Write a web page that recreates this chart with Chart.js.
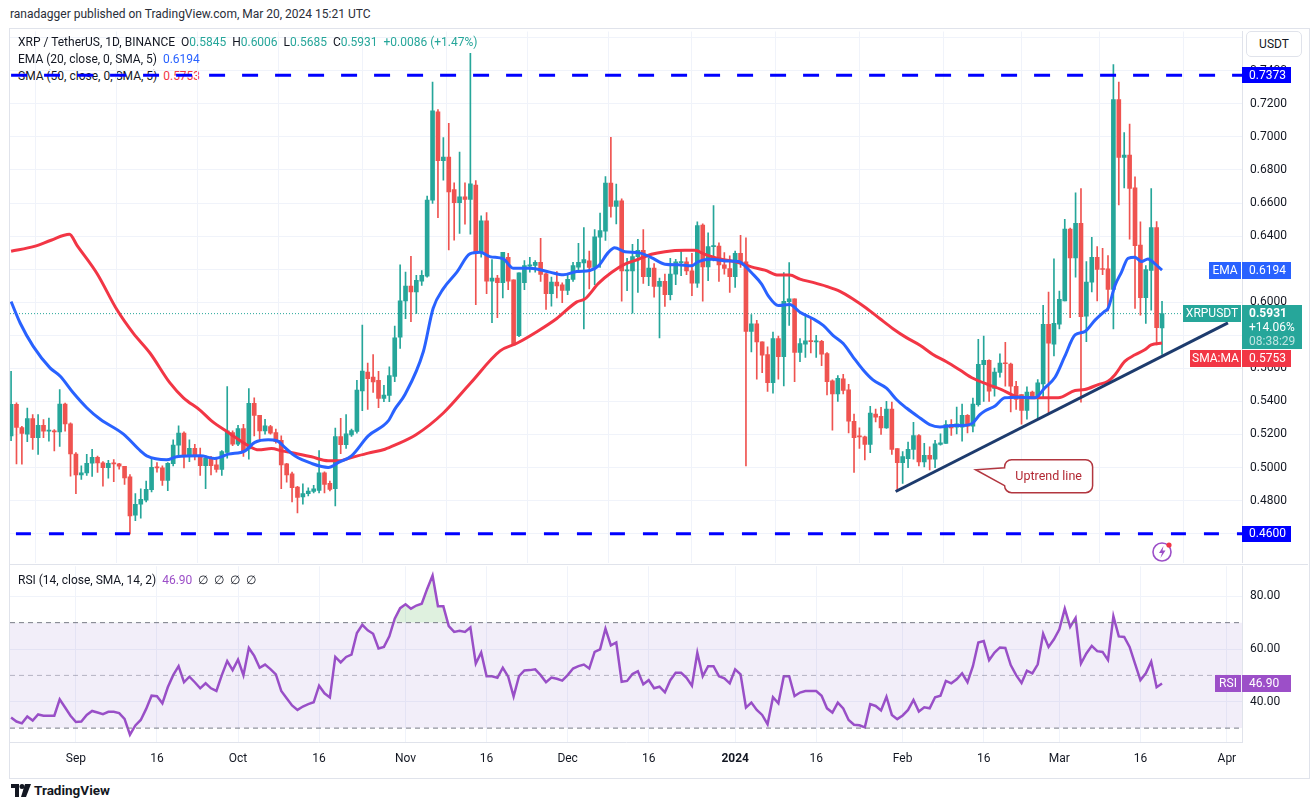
<!DOCTYPE html>
<html>
<head>
<meta charset="utf-8">
<script src="https://cdn.jsdelivr.net/npm/chart.js@4.4.1/dist/chart.umd.min.js"></script>
<style>
  html, body { margin: 0; padding: 0; background: #fff; }
  body { width: 1316px; height: 808px; position: relative; overflow: hidden;
         font-family: Roboto, "Liberation Sans", sans-serif; color: #131722; }
  .abs { position: absolute; }
  #title { left: 10px; top: 7px; font-size: 12px; color: #2a2e39; }
  #frame { left: 9px; top: 28px; width: 1299px; height: 749px; border: 1px solid #e0e3eb; }
  #sep { left: 10px; top: 564px; width: 1298px; height: 1px; background: #e0e3eb; }
  .leg { left: 18px; font-size: 12px; white-space: pre; z-index: 0; }
  .leg.top { z-index: 2; }
  .up { color: #26a69a; }
  #priceWrap { left: 0; top: 30px; z-index: 1; }
  #rsiWrap { left: 0; top: 565px; z-index: 1; }
  #usdt { left: 1246px; top: 31px; width: 54px; height: 24px; border: 1px solid #e0e3eb; border-radius: 5px;
          background: #fff; font-size: 12px; text-align: center; line-height: 24px; z-index: 2; }
  #bolt { left: 1151px; top: 540px; z-index: 2; }
  #logo { left: 11px; top: 782px; font-size: 13.5px; font-weight: bold; color: #131722; }
</style>
</head>
<body>
<div id="title" class="abs">ranadagger published on TradingView.com, Mar 20, 2024 15:21 UTC</div>
<div id="frame" class="abs"></div>
<div id="sep" class="abs"></div>

<div class="abs leg top" style="top:35px">XRP / TetherUS, 1D, BINANCE  O<span class="up">0.5845</span>  H<span class="up">0.6006</span>  L<span class="up">0.5685</span>  C<span class="up">0.5931</span>  <span class="up">+0.0086 (+1.47%)</span></div>
<div class="abs leg top" style="top:52px">EMA (20, close, 0, SMA, 5)  <span style="color:#2962ff">0.6194</span></div>
<div class="abs leg" style="top:69px">SMA (50, close, 0, SMA, 5)  <span style="color:#f23645">0.5753</span></div>
<div class="abs leg top" style="top:573px">RSI (14, close, SMA, 14, 2)  <span style="color:#9c4fc8">46.90</span>  ∅  ∅  ∅  ∅</div>

<div id="priceWrap" class="abs"><canvas id="price" width="1316" height="534"></canvas></div>
<div id="rsiWrap" class="abs"><canvas id="rsi" width="1316" height="212"></canvas></div>
<div id="usdt" class="abs">USDT</div>

<svg id="bolt" class="abs" width="24" height="24" viewBox="0 0 24 24">
  <circle cx="11" cy="12" r="9" fill="#fff" stroke="#9c4fc8" stroke-width="1.6"/>
  <path d="M12.5 6 L8 13 H11 L9.5 18 L14.5 10.5 H11.5 Z" fill="#9c4fc8"/>
  <circle cx="18" cy="5" r="2.6" fill="#f23645"/>
</svg>

<div id="logo" class="abs">
  <svg width="20" height="13" viewBox="0 0 20 13" style="vertical-align:-2px;margin-right:3px">
    <path d="M0 0 H8 V13 H4 V4 H0 Z" fill="#131722"/>
    <circle cx="11" cy="2.5" r="2.5" fill="#131722"/>
    <path d="M14 0 H20 L15 13 H10 Z" fill="#131722"/>
  </svg>TradingView</div>

<script>
var FONT = 'Roboto, "Liberation Sans", sans-serif';
var UP = '#26a69a', DOWN = '#ef5350';
var GRID = '#f0f3fa';
var RSI_COL = '#9c4fc8';

// daily candles, index 0 = Aug 20 2023 ... index 213 = Mar 20 2024
var opens = [
0.5192,0.5382,0.5242,0.5202,0.5296,0.5180,0.5256,0.5220,0.5222,0.5215,
0.5384,0.5264,0.5082,0.4956,0.4968,0.5026,0.5062,0.5028,0.5000,0.5026,
0.5022,0.5008,0.4944,0.4712,0.4778,0.4802,0.4866,0.5004,0.4998,0.4922,
0.5024,0.5136,0.5208,0.5066,0.5116,0.5062,0.5012,0.5056,0.5016,0.4988,
0.5092,0.5212,0.5142,0.5236,0.5112,0.5388,0.5316,0.5222,0.5248,0.5212,
0.5164,0.5022,0.4962,0.4882,0.4822,0.4842,0.4856,0.4862,0.4968,0.4904,
0.4872,0.5188,0.5138,0.5198,0.5218,0.5464,0.5578,0.5548,0.5528,0.5418,
0.5436,0.5552,0.5788,0.6008,0.6098,0.6062,0.6128,0.6158,0.6618,0.7152,
0.6856,0.6878,0.6682,0.6602,0.6638,0.6622,0.6708,0.6298,0.6492,0.6128,
0.6146,0.6118,0.6272,0.6136,0.5798,0.6118,0.6218,0.6222,0.6242,0.6172,
0.6052,0.6122,0.6106,0.6072,0.6138,0.6212,0.6238,0.6250,0.6210,0.6394,
0.6430,0.6720,0.6580,0.6614,0.6190,0.6190,0.6276,0.6314,0.6154,0.6206,
0.6096,0.6126,0.6046,0.6170,0.6240,0.6244,0.6190,0.6116,0.6466,0.6214,
0.6336,0.6340,0.6226,0.6204,0.6154,0.6296,0.6244,0.5824,0.5870,0.5760,
0.5684,0.5514,0.5780,0.5670,0.6004,0.6020,0.5696,0.5746,0.5766,0.5760,
0.5764,0.5690,0.5524,0.5446,0.5536,0.5470,0.5280,0.5190,0.5186,0.5140,
0.5324,0.5310,0.5240,0.5354,0.5114,0.5030,0.5054,0.5110,0.5194,0.5034,
0.5074,0.5050,0.5140,0.5146,0.5260,0.5244,0.5244,0.5316,0.5250,0.5380,
0.5622,0.5648,0.5478,0.5576,0.5632,0.5626,0.5492,0.5442,0.5346,0.5456,
0.5422,0.5506,0.5866,0.5746,0.5868,0.6008,0.6442,0.6268,0.6478,0.5916,
0.6122,0.6272,0.6200,0.6202,0.6078,0.7226,0.6876,0.6890,0.6692,0.6346,
0.6028,0.6192,0.6452,0.5845];
var highs = [
0.5582,0.5392,0.5250,0.5360,0.5320,0.5320,0.5290,0.5300,0.5230,0.5472,
0.5390,0.5270,0.5090,0.5010,0.5080,0.5110,0.5070,0.5036,0.5044,0.5048,
0.5026,0.5008,0.4958,0.4842,0.4872,0.4918,0.5058,0.5030,0.5010,0.5030,
0.5168,0.5252,0.5216,0.5168,0.5140,0.5118,0.5072,0.5068,0.5062,0.5102,
0.5490,0.5222,0.5256,0.5262,0.5478,0.5422,0.5316,0.5292,0.5256,0.5232,
0.5192,0.5026,0.4972,0.4886,0.4902,0.4878,0.4892,0.5102,0.4974,0.4918,
0.5238,0.5298,0.5320,0.5232,0.5528,0.5862,0.5632,0.5684,0.5582,0.5498,
0.5610,0.5855,0.6226,0.6182,0.6278,0.6162,0.6192,0.6642,0.7332,0.7166,
0.6996,0.7082,0.6722,0.6908,0.6722,0.7506,0.6736,0.6522,0.6542,0.6258,
0.6162,0.6302,0.6296,0.6136,0.6178,0.6252,0.6272,0.6252,0.6386,0.6176,
0.6152,0.6186,0.6118,0.6166,0.6242,0.6356,0.6452,0.6310,0.6440,0.6540,
0.6760,0.6998,0.6714,0.6626,0.6266,0.6350,0.6380,0.6440,0.6266,0.6234,
0.6146,0.6170,0.6266,0.6260,0.6316,0.6270,0.6296,0.6486,0.6474,0.6420,
0.6584,0.6360,0.6300,0.6280,0.6310,0.6404,0.6390,0.5926,0.5890,0.5760,
0.5730,0.5820,0.5796,0.6180,0.6240,0.6020,0.5780,0.5926,0.5896,0.5800,
0.5770,0.5696,0.5530,0.5556,0.5564,0.5504,0.5324,0.5240,0.5190,0.5370,
0.5354,0.5364,0.5400,0.5396,0.5114,0.5096,0.5154,0.5274,0.5200,0.5146,
0.5126,0.5164,0.5204,0.5284,0.5290,0.5366,0.5384,0.5320,0.5420,0.5776,
0.5796,0.5652,0.5602,0.5688,0.5758,0.5632,0.5522,0.5442,0.5488,0.5462,
0.5532,0.5982,0.6062,0.6262,0.6068,0.6502,0.6448,0.6662,0.6688,0.6246,
0.6392,0.6336,0.6326,0.6282,0.7438,0.7332,0.7026,0.7078,0.6758,0.6486,
0.6222,0.6688,0.6488,0.6006];
var lows = [
0.5162,0.5022,0.5020,0.5156,0.5110,0.5080,0.5180,0.5160,0.5100,0.5128,
0.5220,0.4948,0.4842,0.4928,0.4952,0.4946,0.4970,0.4888,0.4936,0.4914,
0.4990,0.4898,0.4598,0.4678,0.4694,0.4792,0.4852,0.4972,0.4892,0.4860,
0.5010,0.5072,0.4998,0.5036,0.5046,0.4952,0.4872,0.4956,0.4972,0.4952,
0.5056,0.5132,0.5132,0.5068,0.5050,0.5192,0.5162,0.5202,0.5202,0.5148,
0.4872,0.4912,0.4792,0.4726,0.4778,0.4828,0.4846,0.4846,0.4846,0.4858,
0.4768,0.5084,0.5116,0.5188,0.5208,0.5344,0.5352,0.5454,0.5362,0.5398,
0.5398,0.5520,0.5720,0.5900,0.5882,0.5932,0.6102,0.6152,0.6598,0.6512,
0.6738,0.6316,0.6376,0.6416,0.6472,0.6412,0.5986,0.6272,0.6052,0.5876,
0.5906,0.6026,0.6076,0.5742,0.5792,0.6076,0.6182,0.6182,0.6126,0.5956,
0.5976,0.6026,0.5998,0.6046,0.6126,0.6182,0.5838,0.6080,0.6106,0.6210,
0.6374,0.6514,0.6474,0.6006,0.6070,0.5934,0.6060,0.6114,0.6100,0.6030,
0.5784,0.5974,0.6014,0.6106,0.6160,0.6166,0.6040,0.6090,0.6006,0.6130,
0.6250,0.6126,0.6170,0.6060,0.6090,0.6210,0.5010,0.5700,0.5534,0.5574,
0.5460,0.5450,0.5534,0.5494,0.5860,0.5520,0.5640,0.5666,0.5694,0.5666,
0.5616,0.5440,0.5226,0.5400,0.5446,0.5210,0.4970,0.5116,0.5046,0.5090,
0.5276,0.5200,0.5236,0.5080,0.4854,0.4904,0.4999,0.5050,0.5010,0.5004,
0.4986,0.5000,0.5136,0.5146,0.5194,0.5204,0.5160,0.5210,0.5216,0.5372,
0.5400,0.5400,0.5432,0.5546,0.5492,0.5336,0.5352,0.5262,0.5292,0.5422,
0.5296,0.5422,0.5326,0.5676,0.5838,0.6008,0.5906,0.6152,0.5396,0.5762,
0.6062,0.6008,0.6166,0.5948,0.5838,0.6588,0.6692,0.6382,0.5962,0.5922,
0.5872,0.5952,0.5742,0.5685];
var closes = [
0.5382,0.5242,0.5206,0.5296,0.5180,0.5256,0.5220,0.5224,0.5215,0.5384,
0.5264,0.5082,0.4956,0.4968,0.5026,0.5062,0.5028,0.5000,0.5026,0.5022,
0.5008,0.4938,0.4708,0.4778,0.4808,0.4868,0.5002,0.4998,0.4922,0.5026,
0.5136,0.5208,0.5066,0.5116,0.5066,0.5012,0.5056,0.5012,0.4988,0.5096,
0.5222,0.5142,0.5236,0.5096,0.5388,0.5316,0.5222,0.5252,0.5208,0.5156,
0.5016,0.4956,0.4878,0.4820,0.4842,0.4858,0.4872,0.4968,0.4898,0.4868,
0.5188,0.5138,0.5204,0.5224,0.5468,0.5584,0.5538,0.5518,0.5418,0.5438,
0.5556,0.5785,0.6008,0.6098,0.6062,0.6132,0.6162,0.6618,0.7158,0.6856,
0.6878,0.6668,0.6602,0.6638,0.6622,0.6716,0.6298,0.6492,0.6128,0.6146,
0.6118,0.6302,0.6128,0.5742,0.6178,0.6222,0.6226,0.6242,0.6168,0.6052,
0.6122,0.6098,0.6072,0.6138,0.6222,0.6242,0.6258,0.6210,0.6396,0.6434,
0.6720,0.6580,0.6614,0.6190,0.6196,0.6276,0.6314,0.6154,0.6206,0.6096,
0.6126,0.6046,0.6170,0.6244,0.6246,0.6190,0.6116,0.6464,0.6214,0.6336,
0.6340,0.6226,0.6204,0.6154,0.6296,0.6244,0.5824,0.5870,0.5760,0.5680,
0.5514,0.5780,0.5670,0.6006,0.6020,0.5696,0.5750,0.5766,0.5762,0.5766,
0.5686,0.5520,0.5446,0.5540,0.5466,0.5280,0.5180,0.5186,0.5140,0.5330,
0.5304,0.5240,0.5354,0.5110,0.5030,0.5066,0.5110,0.5194,0.5034,0.5074,
0.5050,0.5144,0.5150,0.5260,0.5240,0.5264,0.5316,0.5250,0.5384,0.5624,
0.5648,0.5462,0.5578,0.5632,0.5628,0.5492,0.5412,0.5346,0.5456,0.5428,
0.5512,0.5866,0.5752,0.5872,0.6018,0.6442,0.6268,0.6478,0.5912,0.6122,
0.6272,0.6198,0.6198,0.6078,0.7226,0.6876,0.6890,0.6688,0.6342,0.6028,
0.6198,0.6452,0.5846,0.5931];

// EMA 20 and SMA 50 as [day index, value]
var emaPts = [
[0,0.6004],[1.7,0.5873],[4.1,0.5733],[7.2,0.5603],[9.1,0.5552],[11.5,0.5452],[14,0.5362],[16.5,0.5292],
[20.8,0.5202],[23.9,0.5102],[25.1,0.5071],[28.8,0.5047],[30.6,0.5065],[35,0.5071],[37.7,0.5055],[40.2,0.5081],
[43.3,0.5101],[45.1,0.5152],[47.6,0.5168],[49.2,0.5162],[50.7,0.5121],[52.5,0.5071],[55.6,0.5025],[58.7,0.5001],
[60.6,0.5031],[63,0.5071],[66.1,0.5192],[69.8,0.5282],[71,0.5352],[72.9,0.5442],[76.3,0.5702],[78.1,0.5962],
[80,0.6082],[82.5,0.6182],[84.9,0.6292],[86.8,0.6302],[88.6,0.6276],[91.1,0.6262],[92.9,0.6206],[96,0.6206],
[99.7,0.6182],[102.2,0.6166],[104.7,0.6186],[107.1,0.6192],[108.7,0.622],[110.5,0.630],[111.7,0.633],[113.6,0.6306],
[116.1,0.630],[118.5,0.627],[121,0.623],[123.5,0.6226],[125.9,0.622],[127.2,0.6246],[129.6,0.626],[132.1,0.625],
[134.6,0.6246],[135.8,0.622],[137,0.618],[138.9,0.611],[140.1,0.604],[142,0.598],[144.1,0.5986],[146,0.594],
[148.4,0.590],[150.3,0.586],[152.1,0.580],[154,0.575],[155.8,0.567],[157.7,0.559],[159.5,0.553],[162,0.548],
[163.9,0.541],[165.7,0.536],[168.2,0.530],[170,0.526],[171.9,0.5246],[174.3,0.5254],[176.8,0.5256],[178,0.527],
[179.3,0.532],[180.2,0.5342],[182.1,0.5372],[183.9,0.5422],[186.4,0.5426],[189.5,0.5422],[191.3,0.5482],[193.2,0.5546],
[195,0.5672],[196.9,0.5802],[198.7,0.5822],[200.6,0.5892],[202.4,0.5946],[203,0.5962],[204.3,0.6102],[205.5,0.6182],
[206.7,0.6266],[208,0.6272],[209.2,0.6246],[210.4,0.6262],[211.7,0.6232],[213,0.6194]];
var smaPts = [
[0,0.6308],[4.3,0.6338],[7.4,0.6375],[10.8,0.6411],[12.2,0.6344],[15.9,0.6174],[19.6,0.5954],[22.6,0.5813],
[25.7,0.5693],[29.4,0.5512],[31.9,0.5422],[35,0.5346],[37.1,0.5282],[40.2,0.5212],[43.9,0.5132],[45.8,0.5107],
[48.2,0.5115],[50.1,0.5101],[52.5,0.5087],[55.6,0.5065],[58.7,0.5041],[60.6,0.5041],[63,0.5061],[66.1,0.5087],
[69.2,0.5111],[71,0.5135],[75,0.5200],[80,0.5330],[85,0.5510],[90.5,0.5706],[93.6,0.5752],[97.3,0.5822],
[101,0.5902],[104.7,0.6002],[106.2,0.6020],[108.7,0.6114],[111.1,0.618],[113.6,0.623],[116.1,0.626],[118.5,0.629],
[121,0.6306],[124.7,0.6314],[126.5,0.6314],[128.4,0.629],[130.9,0.6264],[133.3,0.625],[135.2,0.6234],[137,0.6214],
[139.5,0.6194],[142,0.6164],[144.1,0.6164],[146,0.614],[148.4,0.612],[150.9,0.6096],[153.4,0.6066],[155.8,0.602],
[158.3,0.5964],[160.8,0.590],[163.2,0.584],[165.7,0.5786],[168.2,0.574],[170.6,0.5684],[173.1,0.564],[175.6,0.559],
[178,0.554],[180.8,0.5502],[183.3,0.5472],[185.8,0.5432],[188.2,0.5422],[190.7,0.5422],[193.8,0.5422],[196.9,0.5466],
[198.7,0.5472],[201.2,0.5502],[203,0.5522],[204.3,0.5562],[206.1,0.5642],[208,0.5682],[209.8,0.5712],[211,0.5742],
[213,0.5753]];

var rsiVals = [
34.0,32.5,31.8,34.4,32.9,35.2,34.7,34.7,34.7,40.9,
37.8,34.7,32.3,32.5,35.0,36.5,35.9,35.3,36.2,36.2,
35.7,33.5,27.5,31.0,33.1,37.3,42.3,42.1,39.4,45.5,
50.1,53.5,47.4,49.5,47.4,45.1,47.0,45.1,44.1,50.1,
55.4,52.0,56.0,50.1,60.4,57.4,52.9,54.1,52.4,50.4,
44.1,41.3,38.6,36.9,38.2,39.1,39.8,46.1,43.2,41.6,
57.0,54.9,57.0,57.9,66.1,69.2,67.1,65.8,60.2,60.8,
64.8,71.5,75.5,77.0,75.3,76.5,77.2,82.8,87.9,76.2,
76.2,68.7,66.5,66.9,66.5,68.2,54.5,58.7,49.7,49.7,
49.1,52.9,49.5,42.0,49.7,51.9,52.0,52.3,50.1,47.4,
49.2,48.7,48.0,50.1,52.6,53.5,54.1,52.6,58.9,59.9,
67.7,61.4,62.5,47.6,47.9,50.5,51.6,46.6,48.2,45.1,
45.7,43.6,48.2,51.0,51.0,49.1,46.1,58.6,49.7,53.5,
53.5,49.7,48.9,47.0,52.3,50.4,37.8,39.7,36.9,35.0,
31.5,41.7,39.4,49.7,49.7,42.2,43.5,44.1,44.1,44.1,
42.3,37.5,35.9,39.7,37.5,33.1,31.3,31.1,30.3,39.1,
38.4,36.7,41.9,35.0,33.4,34.8,36.9,40.7,36.3,37.9,
37.5,41.7,42.3,47.9,47.0,48.5,50.8,47.4,53.5,62.5,
63.0,55.8,58.7,60.6,60.4,53.9,50.1,47.1,51.8,50.8,
54.2,65.8,60.8,63.7,67.5,75.3,68.4,71.8,54.5,58.3,
61.2,59.2,58.9,55.8,72.4,64.8,64.6,60.8,54.5,48.2,
50.8,55.2,45.5,46.9];

// horizontal levels, trend line, last values
var levelHigh = 0.7373, levelLow = 0.4600;
var trendPts = [[163.7, 0.4855], [225.2, 0.5875]];
var lastClose = 0.5931, lastEma = 0.6194, lastSma = 0.5753, lastRsi = 46.90;
var changeText = '+14.06%', timerText = '08:38:29';

// axes
var xTickIdx = [12, 27, 42, 57, 73, 88, 103, 118, 134, 149, 165, 180, 194, 209, 225];
var xTickLabels = ['Sep', '16', 'Oct', '16', 'Nov', '16', 'Dec', '16', '2024', '16', 'Feb', '16', 'Mar', '16', 'Apr'];
var priceTicks = [0.46, 0.48, 0.50, 0.52, 0.54, 0.56, 0.58, 0.60, 0.62, 0.64, 0.66, 0.68, 0.70, 0.72, 0.74, 0.76];
var rsiTicks = [40, 60, 80];
var xMin = -0.2, xMax = 227.8;

// vertical placement: where a known value sits on the page (px)
var priceRef = { v: 0.7373, y: 74, perPx: 0.0006015 };
var rsiRef = { v: 50, y: 675.3, perPx: 1 / 2.64 };

var idx = opens.map(function (v, i) { return i; });
var candleColors = idx.map(function (i) { return closes[i] >= opens[i] ? UP : DOWN; });
function pts(arr) { return arr.map(function (p) { return { x: p[0], y: p[1] }; }); }
function hline(v) { return [{ x: xMin, y: v }, { x: xMax, y: v }]; }
function noPad(s) { s.paddingTop = 0; s.paddingBottom = 0; }

// set the y range so the chart area maps values to the wanted page rows
function pinY(chart, canvasTop, ref) {
  var a = chart.chartArea, yo = chart.options.scales.y;
  yo.max = ref.v + (ref.y - (canvasTop + a.top)) * ref.perPx;
  yo.min = ref.v - ((canvasTop + a.bottom) - ref.y) * ref.perPx;
  chart.update();
}

function tag(ctx, x1, x2, yc, h, bg, text, align) {
  ctx.fillStyle = bg;
  ctx.fillRect(x1, Math.round(yc - h / 2), x2 - x1, h);
  ctx.fillStyle = '#fff';
  ctx.font = '12px ' + FONT;
  ctx.textBaseline = 'middle';
  ctx.textAlign = align || 'left';
  ctx.fillText(text, align === 'center' ? (x1 + x2) / 2 : x1 + 7, yc + 0.5);
}

var priceTags = {
  id: 'priceTags',
  afterDraw: function (chart) {
    var ctx = chart.ctx, y = chart.scales.y, x = chart.scales.x, r = chart.chartArea.right;
    ctx.save();
    // callout pointing at the trend line
    var tx = x.getPixelForValue(178.5), ty = y.getPixelForValue(0.4987);
    var bx = tx + 29, by = ty - 10, bw = 88, bh = 33, rr = 7;
    ctx.beginPath();
    ctx.moveTo(bx + rr, by);
    ctx.lineTo(bx + bw - rr, by);
    ctx.arcTo(bx + bw, by, bx + bw, by + rr, rr);
    ctx.lineTo(bx + bw, by + bh - rr);
    ctx.arcTo(bx + bw, by + bh, bx + bw - rr, by + bh, rr);
    ctx.lineTo(bx + rr, by + bh);
    ctx.arcTo(bx, by + bh, bx, by + bh - rr, rr);
    ctx.lineTo(bx, ty + 16);
    ctx.lineTo(tx, ty);
    ctx.lineTo(bx, ty - 2);
    ctx.lineTo(bx, by + rr);
    ctx.arcTo(bx, by, bx + rr, by, rr);
    ctx.closePath();
    ctx.fillStyle = '#fff';
    ctx.fill();
    ctx.strokeStyle = '#b2363f';
    ctx.lineWidth = 1.5;
    ctx.stroke();
    ctx.fillStyle = '#b22833';
    ctx.font = '12.5px ' + FONT;
    ctx.textAlign = 'center';
    ctx.textBaseline = 'middle';
    ctx.fillText('Uptrend line', bx + bw / 2, by + bh / 2 + 0.5);

    // right axis tags
    tag(ctx, r, r + 49, y.getPixelForValue(levelHigh), 16, '#0000ff', levelHigh.toFixed(4));
    tag(ctx, r, r + 49, y.getPixelForValue(levelLow), 16, '#0000ff', levelLow.toFixed(4));
    var ye = y.getPixelForValue(lastEma);
    tag(ctx, r - 33, r - 1, ye, 17, '#2962ff', 'EMA', 'center');
    tag(ctx, r, r + 49, ye, 17, '#2962ff', lastEma.toFixed(4));
    var yc = y.getPixelForValue(lastClose);
    tag(ctx, r - 59, r - 1, yc, 17, UP, 'XRPUSDT', 'center');
    ctx.fillStyle = UP;
    ctx.fillRect(r, Math.round(yc - 8.5), 60, 44);
    ctx.textAlign = 'left';
    ctx.fillStyle = '#fff';
    ctx.font = 'bold 12px ' + FONT;
    ctx.fillText(lastClose.toFixed(4), r + 7, yc + 0.5);
    ctx.font = '12px ' + FONT;
    ctx.fillText(changeText, r + 7, yc + 14.5);
    ctx.fillStyle = 'rgba(255,255,255,0.7)';
    ctx.fillText(timerText, r + 7, yc + 28.5);
    var ys = Math.max(y.getPixelForValue(lastSma), yc + 36 + 9);
    tag(ctx, r - 52, r - 1, ys, 17, '#f23645', 'SMA:MA', 'center');
    tag(ctx, r, r + 49, ys, 17, '#f23645', lastSma.toFixed(4));
    ctx.restore();
  }
};

var rsiTags = {
  id: 'rsiTags',
  afterDraw: function (chart) {
    var ctx = chart.ctx, y = chart.scales.y, r = chart.chartArea.right;
    var yr = y.getPixelForValue(lastRsi);
    ctx.save();
    tag(ctx, r - 27, r - 1, yr, 17, RSI_COL, 'RSI', 'center');
    tag(ctx, r, r + 49, yr, 17, RSI_COL, lastRsi.toFixed(2));
    ctx.restore();
  }
};

var common = {
  responsive: false,
  animation: false,
  events: [],
  plugins: { legend: { display: false }, tooltip: { enabled: false } }
};

var priceChart = new Chart(document.getElementById('price'), {
  type: 'bar',
  data: {
    datasets: [
      { type: 'line', data: hline(lastClose), borderColor: UP, borderWidth: 1, borderDash: [1, 2],
        pointRadius: 0, order: 9 },
      { label: 'wicks', data: idx.map(function (i) { return { x: i, y: [lows[i], highs[i]] }; }),
        backgroundColor: candleColors, barThickness: 1, grouped: false, order: 8 },
      { label: 'bodies', data: idx.map(function (i) { return { x: i, y: [opens[i], closes[i]] }; }),
        backgroundColor: candleColors, barThickness: 4, minBarLength: 1, grouped: false, order: 7 },
      { type: 'line', label: 'SMA', data: pts(smaPts), borderColor: '#f23645', borderWidth: 3,
        pointRadius: 0, cubicInterpolationMode: 'monotone', order: 6 },
      { type: 'line', label: 'EMA', data: pts(emaPts), borderColor: '#2962ff', borderWidth: 3,
        pointRadius: 0, cubicInterpolationMode: 'monotone', order: 5 },
      { type: 'line', data: pts(trendPts), borderColor: '#1d3b6d', borderWidth: 3, pointRadius: 0, order: 4 },
      { type: 'line', data: [{ x: 0.0, y: levelHigh }, { x: xMax, y: levelHigh }], borderColor: '#0000ff',
        borderWidth: 3, borderDash: [16, 17], pointRadius: 0, order: 3 },
      { type: 'line', data: [{ x: 0.9, y: levelLow }, { x: xMax, y: levelLow }], borderColor: '#0000ff',
        borderWidth: 3, borderDash: [15, 18], pointRadius: 0, order: 3 }
    ]
  },
  options: Object.assign({}, common, {
    layout: { padding: { left: 10, right: 0, top: 0, bottom: 0 } },
    scales: {
      x: {
        type: 'linear', min: xMin, max: xMax, offset: false,
        grid: { color: GRID, drawTicks: false },
        border: { display: false },
        ticks: { display: false },
        afterBuildTicks: function (s) { s.ticks = xTickIdx.map(function (v) { return { value: v }; }); },
        afterFit: function (s) { s.height = 0; s.paddingLeft = 0; s.paddingRight = 0; }
      },
      y: {
        position: 'right', min: 0.4426, max: 0.7638,
        grid: { color: GRID, drawTicks: false },
        border: { color: '#e0e3eb' },
        ticks: { padding: 8, color: '#131722', font: { size: 12, family: FONT },
                 callback: function (v) { return Number(v).toFixed(4); } },
        afterBuildTicks: function (s) { s.ticks = priceTicks.map(function (v) { return { value: v }; }); },
        afterFit: function (s) { s.width = 74; noPad(s); }
      }
    }
  }),
  plugins: [priceTags]
});
pinY(priceChart, 30, priceRef);

var rsiChart = new Chart(document.getElementById('rsi'), {
  type: 'line',
  data: {
    datasets: [
      { data: hline(70), borderColor: '#787b86', borderWidth: 1, borderDash: [5, 4], pointRadius: 0 },
      { data: hline(30), borderColor: '#787b86', borderWidth: 1, borderDash: [5, 4], pointRadius: 0,
        fill: 0, backgroundColor: 'rgba(126,87,194,0.1)' },
      { data: hline(50), borderColor: 'rgba(120,123,134,0.5)', borderWidth: 1, borderDash: [5, 4], pointRadius: 0 },
      { label: 'RSI', data: rsiVals.map(function (v, i) { return { x: i, y: v }; }),
        borderColor: RSI_COL, borderWidth: 2.5, pointRadius: 0,
        fill: { target: { value: 70 }, above: 'rgba(76,175,80,0.18)', below: 'rgba(0,0,0,0)' } }
    ]
  },
  options: Object.assign({}, common, {
    layout: { padding: { left: 10, right: 0, top: 1, bottom: 0 } },
    scales: {
      x: {
        type: 'linear', min: xMin, max: xMax, offset: false,
        grid: { color: GRID, drawTicks: false },
        border: { color: '#e0e3eb' },
        ticks: {
          padding: 10, color: '#131722', autoSkip: false, maxRotation: 0,
          font: function (c) {
            return { size: 12, family: FONT, weight: (c.tick && c.tick.value === 134) ? 'bold' : 'normal' };
          },
          callback: function (v) { var k = xTickIdx.indexOf(v); return k < 0 ? '' : xTickLabels[k]; }
        },
        afterBuildTicks: function (s) { s.ticks = xTickIdx.map(function (v) { return { value: v }; }); },
        afterFit: function (s) { s.height = 35; s.paddingLeft = 0; s.paddingRight = 0; }
      },
      y: {
        position: 'right', min: 24.74, max: 91.4,
        grid: { color: GRID, drawTicks: false },
        border: { color: '#e0e3eb' },
        ticks: { padding: 8, color: '#131722', font: { size: 12, family: FONT },
                 callback: function (v) { return Number(v).toFixed(2); } },
        afterBuildTicks: function (s) { s.ticks = rsiTicks.map(function (v) { return { value: v }; }); },
        afterFit: function (s) { s.width = 74; noPad(s); }
      }
    }
  }),
  plugins: [rsiTags]
});
pinY(rsiChart, 565, rsiRef);
</script>
</body>
</html>
